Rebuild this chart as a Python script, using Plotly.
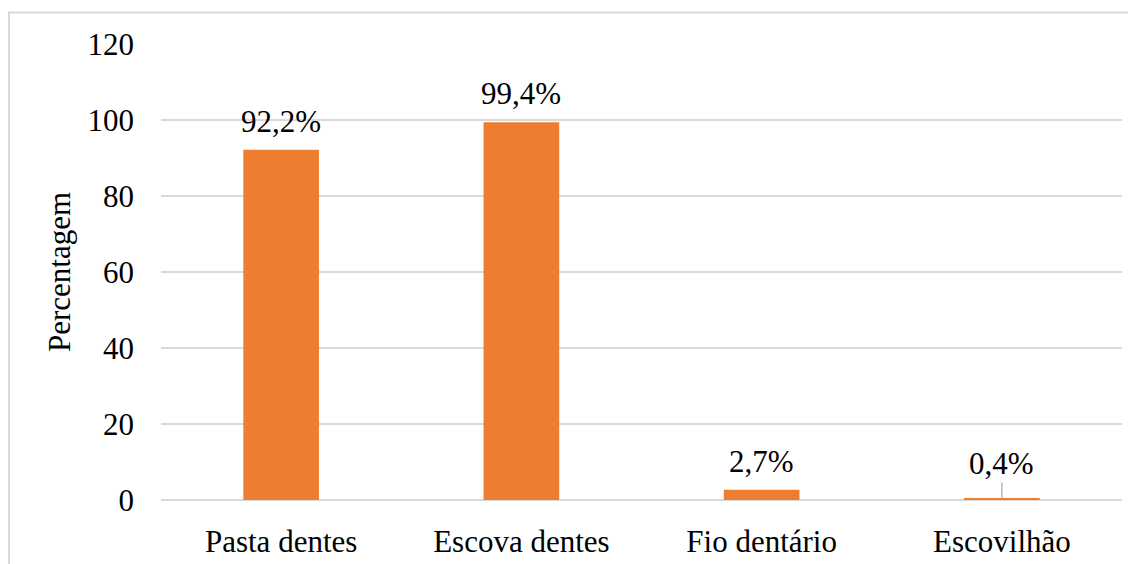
import plotly.graph_objects as go

categories = ["Pasta dentes", "Escova dentes", "Fio dentário", "Escovilhão"]
values = [92.2, 99.4, 2.7, 0.4]
labels = ["92,2%", "99,4%", "2,7%", "0,4%"]
y_ticks = [0, 20, 40, 60, 80, 100, 120]

FONT = "Liberation Serif"
BAR = "#ED7D31"
GRID = "#D9D9D9"
FS = 31

# page body has an 8px default margin; figure sized to fill the rest of the window
W, H = 1128, 556
L, R, T, B = 153, 14, 36, 64
PW, PH = W - L - R, H - T - B

fig = go.Figure()
fig.add_trace(go.Bar(x=categories, y=values, marker_color=BAR, marker_line_width=0,
                     width=0.315, hoverinfo="skip"))

for c, v, t in zip(categories, values, labels):
    if v < 1:
        fig.add_annotation(x=c, y=v, text=t, showarrow=True, arrowhead=0, arrowwidth=1.2,
                           arrowcolor="#A6A6A6", ax=0, ay=-35,
                           font=dict(family=FONT, size=FS, color="#000"))
    else:
        fig.add_annotation(x=c, y=v, text=t, showarrow=False, yanchor="bottom", yshift=9,
                           font=dict(family=FONT, size=FS, color="#000"))

fig.update_layout(
    width=W, height=H,
    margin=dict(l=L, r=R, t=T, b=B, autoexpand=False),
    paper_bgcolor="white", plot_bgcolor="white",
    font=dict(family=FONT, size=FS, color="#000"),
    showlegend=False,
    bargap=0.685,
    shapes=[dict(type="rect", xref="paper", yref="paper",
                 x0=(1 - L) / PW, x1=(W + 10 - L) / PW,
                 y0=-(B + 10) / PH, y1=(PH + T - 4.5) / PH,
                 line=dict(color=GRID, width=2), fillcolor="rgba(0,0,0,0)", layer="below")],
)
fig.update_xaxes(showgrid=False, ticks="", showline=False, zeroline=False, automargin=False,
                 ticklabelstandoff=20, tickfont=dict(family=FONT, size=FS, color="#000"))
fig.update_yaxes(range=[0, 120], tickvals=y_ticks, showgrid=True, gridcolor=GRID, gridwidth=1.5,
                 zeroline=True, zerolinecolor=GRID, zerolinewidth=1.5, showline=False, ticks="",
                 automargin=False,
                 ticklabelstandoff=26, tickfont=dict(family=FONT, size=FS, color="#000"),
                 title=dict(text="Percentagem", standoff=7, font=dict(family=FONT, size=FS, color="#000")))

fig.write_html("out.html")
